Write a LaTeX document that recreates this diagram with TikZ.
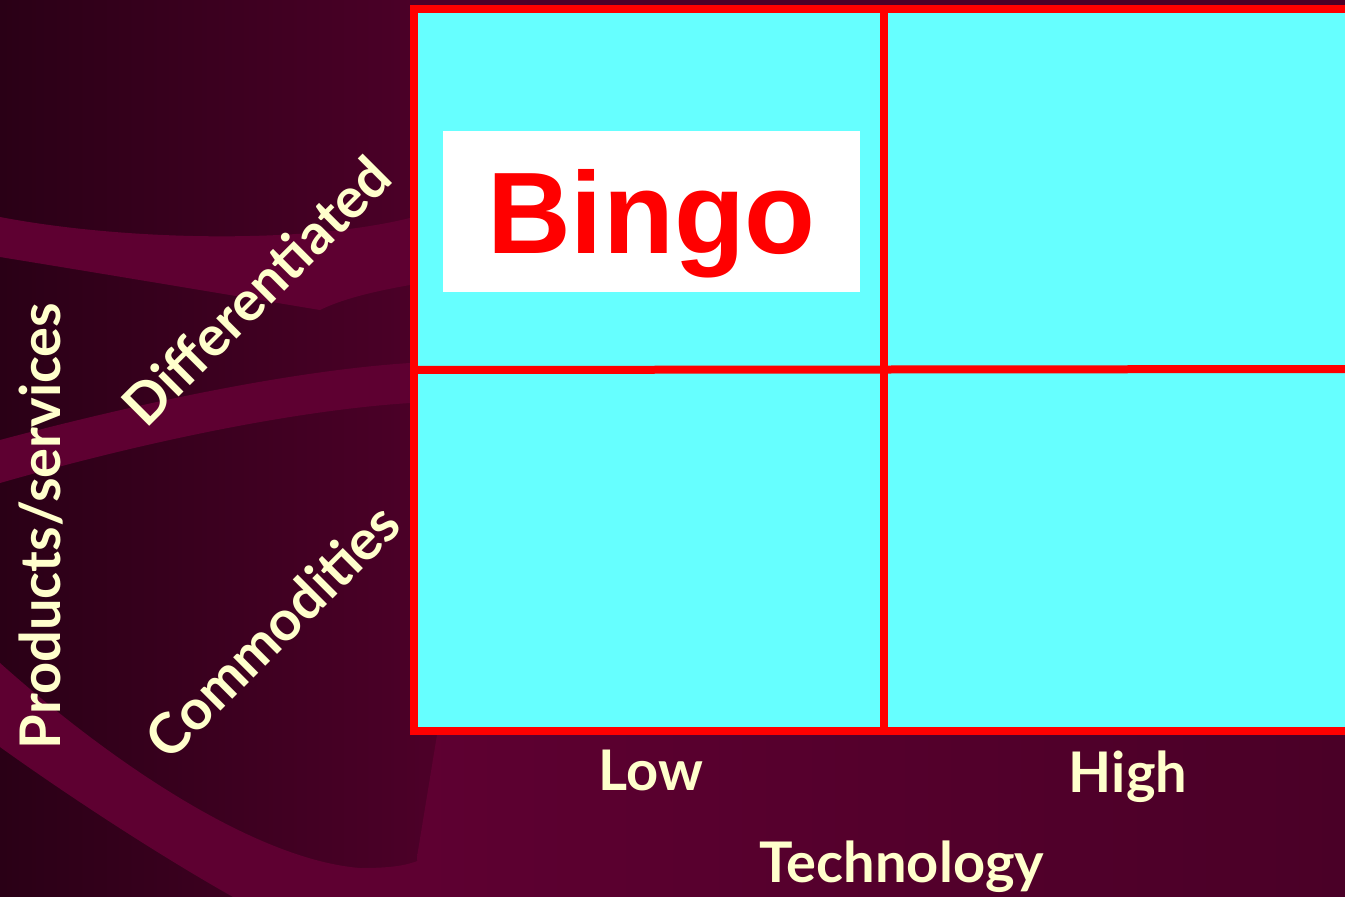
\documentclass[tikz,border=0pt]{standalone}
\usepackage{fontspec}
\setmainfont{Liberation Sans}
\newfontfamily\comicfont{Lato}
\definecolor{bgdark}{HTML}{2A0016}
\definecolor{bgmid}{HTML}{4E0029}
\definecolor{bandcol}{HTML}{5E0031}
\definecolor{lowlight}{HTML}{600033}
\definecolor{bgright}{HTML}{4A0027}
\definecolor{cream}{HTML}{FFFFCC}
\definecolor{cellcol}{HTML}{66FFFF}
\definecolor{gridred}{HTML}{FF0000}
\begin{document}
\begin{tikzpicture}[x=1pt, y=-1pt,
    axislabel/.style={text=cream, inner sep=0pt, anchor=base,
        font=\comicfont\bfseries\fontsize{56}{60}\selectfont},
    gridline/.style={draw=gridred, line width=8pt},
    bingobox/.style={fill=white, text=gridred, inner sep=0pt,
        minimum width=417pt, minimum height=161pt, text depth=0pt,
        font=\bfseries\fontsize{116}{120}\selectfont}]
    \useasboundingbox (0,0) rectangle (1345,897);
    \clip (0,0) rectangle (1345,897);
    \shade[left color=bgdark, right color=bgmid] (0,0) rectangle (450,897);
    \shade[left color=bgmid, right color=bgright] (410,0) rectangle (1345,40);
    \shade[left color=bandcol, middle color=lowlight, right color=bgright]
        (437,735) -- (1345,735) -- (1345,897) -- (420,897) -- (417,857) -- cycle;
    \fill[bandcol] (0,217) .. controls (120,240) and (300,245) .. (410,218)
        -- (410,285) .. controls (370,292) and (340,300) .. (320,310)
        .. controls (200,290) and (80,270) .. (0,257) -- cycle;
    \fill[bandcol] (0,440) .. controls (150,400) and (300,370) .. (410,363)
        -- (410,403) .. controls (300,410) and (150,440) .. (0,483) -- cycle;
    \fill[bandcol] (0,663) .. controls (120,770) and (260,860) .. (360,868)
        .. controls (390,868) and (405,866) .. (420,860) -- (420,897) -- (233,897)
        .. controls (150,850) and (60,790) .. (0,747) -- cycle;
    \fill[cellcol] (414,9) rectangle (1360,731);
    \draw[gridline] (414,9) rectangle (1360,731);
    \draw[gridline] (884,9) -- (884,731);
    \draw[gridline] (414,370) -- (1360,369);
    \node[bingobox] (bingo) at (651.5,211.5) {Bingo};
    \node[axislabel] (low) at (651,790) {Low};
    \node[axislabel] (high) at (1128,792) {High};
    \node[axislabel] (tech) at (902,882) {Technology};
    \node[axislabel, rotate=90] (prod) at (60,526) {Products/services};
    \node[axislabel, rotate=45] (diff) at (271,305) {Differentiated};
    \node[axislabel, rotate=45] (comm) at (287,645) {Commodities};
\end{tikzpicture}
\end{document}
